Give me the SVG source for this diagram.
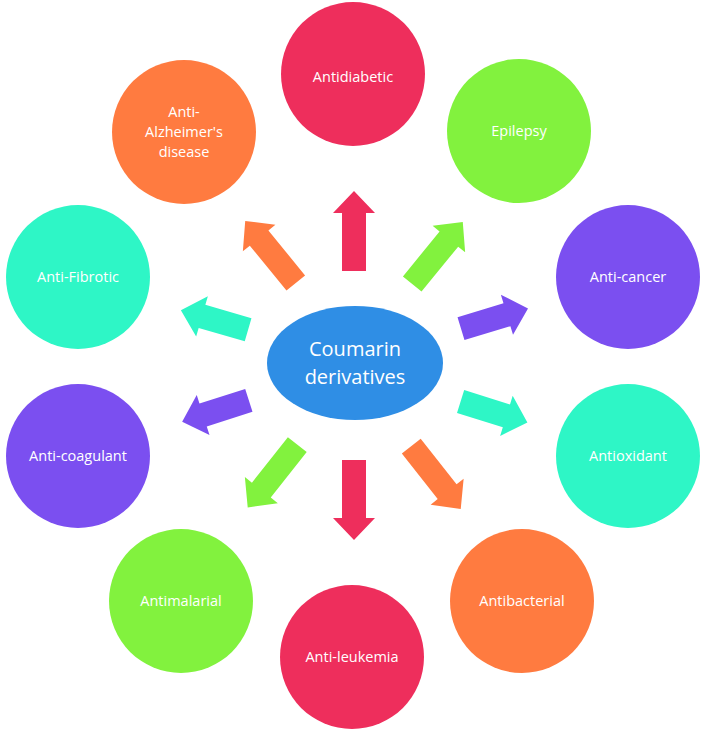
<svg xmlns="http://www.w3.org/2000/svg" width="705" height="734" viewBox="0 0 705 734">
<defs>
<style>
.red{fill:#EE2E5C}.orange{fill:#FF7B40}.green{fill:#82F23E}.teal{fill:#2EF6C6}.purple{fill:#7B4FF0}.blue{fill:#2F8EE5}
.lbl{font-family:"Open Sans","Noto Sans",sans-serif;font-size:14.5px;fill:#fff;text-anchor:middle}
.ctr{font-family:"Open Sans","Noto Sans",sans-serif;font-size:20px;fill:#fff;text-anchor:middle}
</style>
<polygon id="arL" points="-40,-12 18,-12 18,-21 40,0 18,21 18,12 -40,12"/>
<polygon id="arS" points="-35,-12 13,-12 13,-21 35,0 13,21 13,12 -35,12"/>
</defs>
<rect width="705" height="734" fill="#fff"/>
<g id="connectors">
<use href="#arL" class="red" transform="translate(354,231) rotate(-90)"/>
<use href="#arL" class="red" transform="translate(354,500) rotate(90)"/>
<use href="#arL" class="orange" transform="translate(270.5,252) rotate(-129.2)"/>
<use href="#arL" class="green" transform="translate(437.5,253) rotate(-50.8)"/>
<use href="#arS" class="teal" transform="translate(214.5,320) rotate(196.2)"/>
<use href="#arS" class="purple" transform="translate(215.5,411) rotate(162.3)"/>
<use href="#arS" class="purple" transform="translate(494.5,318.5) rotate(-16.8)"/>
<use href="#arS" class="teal" transform="translate(494,412) rotate(17.4)"/>
<use href="#arL" class="green" transform="translate(272.5,476) rotate(128.3)"/>
<use href="#arL" class="orange" transform="translate(436,477.5) rotate(51.8)"/>
</g>
<g id="center"><ellipse class="blue" cx="355" cy="363" rx="88" ry="57"/><text class="ctr" x="355" y="356">Coumarin</text><text class="ctr" x="355" y="384">derivatives</text></g>
<g id="antidiabetic"><circle class="red" cx="353" cy="74" r="72"/><text class="lbl" x="353" y="82">Antidiabetic</text></g>
<g id="epilepsy"><circle class="green" cx="519" cy="131" r="72"/><text class="lbl" x="519" y="136">Epilepsy</text></g>
<g id="anticancer"><circle class="purple" cx="628" cy="277" r="72"/><text class="lbl" x="628" y="282">Anti-cancer</text></g>
<g id="antioxidant"><circle class="teal" cx="628" cy="456" r="72"/><text class="lbl" x="628" y="461">Antioxidant</text></g>
<g id="antibacterial"><circle class="orange" cx="522" cy="601" r="72"/><text class="lbl" x="522" y="606">Antibacterial</text></g>
<g id="antileukemia"><circle class="red" cx="352" cy="657" r="72"/><text class="lbl" x="352" y="662">Anti-leukemia</text></g>
<g id="antimalarial"><circle class="green" cx="181" cy="601" r="72"/><text class="lbl" x="181" y="606">Antimalarial</text></g>
<g id="anticoagulant"><circle class="purple" cx="78" cy="456" r="72"/><text class="lbl" x="78" y="461">Anti-coagulant</text></g>
<g id="antifibrotic"><circle class="teal" cx="78" cy="277" r="72"/><text class="lbl" x="78" y="282">Anti-Fibrotic</text></g>
<g id="antialzheimer"><circle class="orange" cx="184" cy="132" r="72"/><text class="lbl" x="184" y="117">Anti-</text><text class="lbl" x="184" y="137">Alzheimer's</text><text class="lbl" x="184" y="157">disease</text></g>
</svg>
